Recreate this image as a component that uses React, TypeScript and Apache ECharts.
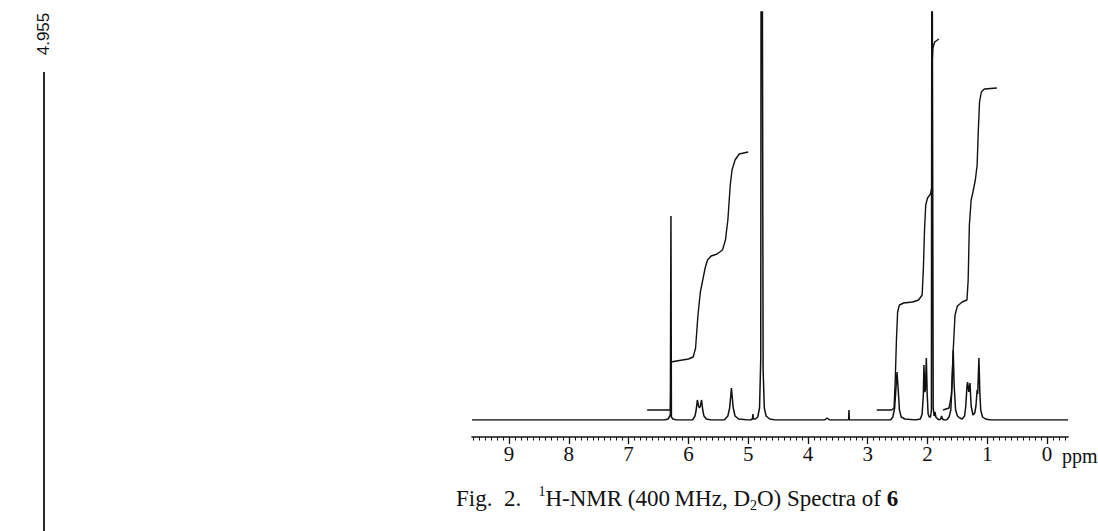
import React, { useEffect, useRef } from "react";
import * as echarts from "echarts";

// ---- data (ppm, height above baseline) ----
const MAJOR_TICKS: number[] = [0, 1, 2, 3, 4, 5, 6, 7, 8, 9];
const MINOR_TICKS: number[] = [];
for (let i = -3; i <= 96; i++) MINOR_TICKS.push(Math.round(i) / 10);

const SPECTRUM: [number, number][] = [
  [9.62, 0], [6.4, 0], [6.34, 1], [6.31, 4], [6.302, 6], [6.292, 204], [6.284, 3], [6.26, 1], [6.2, 0],
  [5.93, 0], [5.89, 4], [5.87, 10], [5.85, 20], [5.83, 14], [5.815, 12], [5.8, 14], [5.78, 20], [5.76, 10], [5.74, 4], [5.7, 1], [5.62, 0],
  [5.4, 0], [5.34, 4], [5.31, 12], [5.29, 25], [5.28, 32], [5.27, 25], [5.25, 12], [5.22, 4], [5.16, 1], [5.0, 0],
  [4.96, 0], [4.93, 1], [4.92, 6], [4.915, 1], [4.88, 1],
  [4.84, 3], [4.81, 12], [4.79, 60], [4.782, 600], [4.768, 600], [4.75, 50], [4.73, 12], [4.7, 4], [4.64, 1], [4.55, 0],
  [3.72, 0], [3.68, 2], [3.64, 0],
  [3.32, 0], [3.314, 10], [3.308, 0],
  [2.62, 0], [2.58, 3], [2.55, 12], [2.53, 30], [2.51, 48], [2.49, 30], [2.47, 10], [2.44, 3], [2.38, 1], [2.2, 0],
  [2.12, 1], [2.09, 6], [2.07, 25], [2.06, 55], [2.045, 28], [2.035, 30], [2.02, 62], [2.005, 25], [1.99, 6], [1.97, 3],
  [1.95, 3], [1.935, 10], [1.926, 600], [1.918, 600], [1.905, 12], [1.89, 4], [1.875, 8], [1.86, 3], [1.83, 1], [1.8, 0],
  [1.78, 1], [1.765, 4], [1.75, 1], [1.72, 0],
  [1.68, 0], [1.64, 3], [1.61, 10], [1.59, 35], [1.57, 70], [1.555, 35], [1.53, 10], [1.5, 4], [1.46, 2],
  [1.42, 1], [1.38, 4], [1.36, 14], [1.34, 34], [1.33, 38], [1.31, 28], [1.29, 37], [1.27, 14], [1.24, 5], [1.21, 7],
  [1.19, 14], [1.17, 30], [1.16, 26], [1.14, 62], [1.125, 28], [1.11, 10], [1.08, 3], [1.03, 1], [0.95, 0], [-0.35, 0],
];

const INTEGRAL_1: [number, number][] = [
  [6.69, 10], [6.3, 10], [6.29, 58], [6.2, 59], [6.0, 61], [5.92, 63], [5.88, 72], [5.84, 105], [5.8, 128],
  [5.76, 140], [5.72, 152], [5.68, 160], [5.62, 164], [5.52, 166], [5.43, 170], [5.38, 180], [5.34, 200],
  [5.3, 235], [5.27, 250], [5.22, 260], [5.15, 266], [5.0, 268],
];

const INTEGRAL_2: [number, number][] = [
  [2.85, 10], [2.6, 10], [2.56, 12], [2.54, 40], [2.52, 80], [2.5, 108], [2.47, 115], [2.4, 117], [2.25, 118],
  [2.15, 120], [2.09, 125], [2.07, 150], [2.05, 190], [2.03, 215], [2.0, 222], [1.95, 226], [1.93, 232],
  [1.92, 360], [1.91, 372], [1.88, 378], [1.81, 381],
];

const INTEGRAL_3: [number, number][] = [
  [1.74, 10], [1.64, 12], [1.6, 25], [1.57, 70], [1.54, 105], [1.5, 114], [1.42, 118], [1.34, 120], [1.32, 140],
  [1.3, 195], [1.27, 220], [1.24, 228], [1.2, 240], [1.17, 255], [1.15, 290], [1.13, 318], [1.1, 328],
  [1.05, 331], [0.84, 332],
];

const SIDE_PEAK_PPM = 4.955;
const SIDE_PEAK: [number, number][] = [[SIDE_PEAK_PPM, 0], [SIDE_PEAK_PPM, 1]];

const UNIT_LABEL = "ppm";
const CAPTION = "Fig.  2.   {sup|1}H-NMR (400\u2009MHz, D{sub|2}O) Spectra of {b|6}";

const SERIF = "'Liberation Serif', 'Times New Roman', serif";
const INK = "#111111";

export default function App() {
  const ref = useRef<HTMLDivElement>(null);

  useEffect(() => {
    if (!ref.current) return;
    const chart = echarts.init(ref.current, undefined, { renderer: "svg" });
    const lineStyle = { color: INK, width: 1.5 };
    const intStyle = { color: INK, width: 1.4 };
    const option: any = {
      animation: false,
      backgroundColor: "#ffffff",
      grid: [
        { left: 472, right: 30, top: 12, bottom: 111 },
        { left: 30, width: 28, top: 72, bottom: 0 },
      ],
      xAxis: [
        {
          gridIndex: 0, type: "value", inverse: true, min: -0.35, max: 9.62, position: "bottom", offset: 17,
          axisLine: { show: true, onZero: false, lineStyle: { color: INK, width: 1.6 } },
          axisTick: { show: true, customValues: MAJOR_TICKS, length: 7, lineStyle: { color: INK, width: 1.3 } },
          axisLabel: { show: true, customValues: MAJOR_TICKS, margin: 6, fontFamily: SERIF, fontSize: 21, color: INK },
          splitLine: { show: false },
        },
        {
          gridIndex: 0, type: "value", inverse: true, min: -0.35, max: 9.62, position: "bottom", offset: 17,
          axisLine: { show: false, onZero: false },
          axisTick: { show: true, customValues: MINOR_TICKS, length: 3.5, lineStyle: { color: INK, width: 1 } },
          axisLabel: { show: false },
          splitLine: { show: false },
        },
        { gridIndex: 1, type: "value", min: 4.9, max: 5.01, show: false },
      ],
      yAxis: [
        { gridIndex: 0, type: "value", min: 0, max: 408, show: false },
        { gridIndex: 1, type: "value", min: 0, max: 1, show: false },
      ],
      series: [
        { name: "spectrum", type: "line", data: SPECTRUM, showSymbol: false, symbol: "none", lineStyle, clip: true },
        { name: "integral 1", type: "line", data: INTEGRAL_1, showSymbol: false, symbol: "none", lineStyle: intStyle },
        { name: "integral 2", type: "line", data: INTEGRAL_2, showSymbol: false, symbol: "none", lineStyle: intStyle },
        { name: "integral 3", type: "line", data: INTEGRAL_3, showSymbol: false, symbol: "none", lineStyle: intStyle },
        {
          name: "side peak", type: "line", xAxisIndex: 2, yAxisIndex: 1, data: SIDE_PEAK,
          showSymbol: false, symbol: "none", lineStyle: { color: INK, width: 1.8 },
        },
      ],
      graphic: [
        {
          type: "text", x: 1062, y: 456,
          style: { text: UNIT_LABEL, fontFamily: SERIF, fontSize: 20, fill: INK, align: "left", verticalAlign: "middle" },
        },
        {
          type: "text", x: 456, y: 498,
          style: {
            text: CAPTION, fontFamily: SERIF, fontSize: 23, fill: INK, align: "left", verticalAlign: "middle", lineHeight: 28,
            rich: {
              sup: { fontFamily: SERIF, fontSize: 14, verticalAlign: "top", lineHeight: 28, fill: INK },
              sub: { fontFamily: SERIF, fontSize: 14, verticalAlign: "bottom", lineHeight: 28, fill: INK },
              b: { fontFamily: SERIF, fontSize: 23, fontWeight: "bold", lineHeight: 28, fill: INK },
            },
          },
        },
        {
          type: "text", x: 43, y: 34, rotation: Math.PI / 2,
          style: {
            text: SIDE_PEAK_PPM.toFixed(3), fontFamily: "'Liberation Sans Narrow', 'Liberation Sans', sans-serif",
            fontSize: 17, fill: INK, align: "center", verticalAlign: "middle",
          },
        },
      ],
    };
    chart.setOption(option);
    return () => chart.dispose();
  }, []);

  return <div ref={ref} style={{ position: "absolute", left: 0, top: 0, width: 1098, height: 531 }} />;
}
